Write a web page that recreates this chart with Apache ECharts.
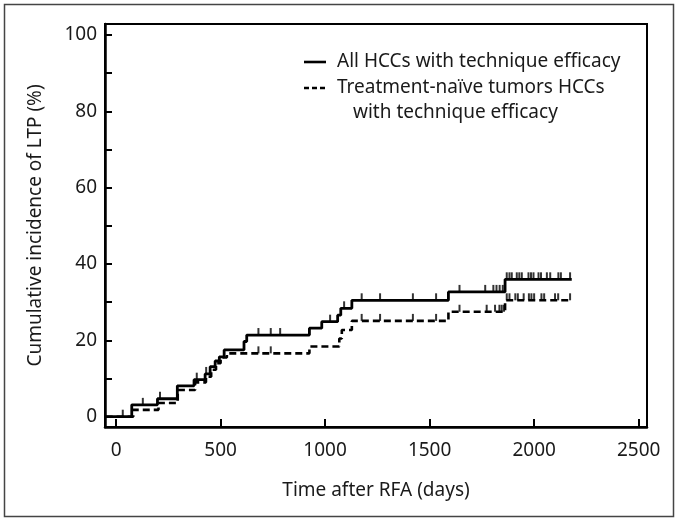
<!DOCTYPE html>
<html>
<head>
<meta charset="utf-8">
<script src="https://cdn.jsdelivr.net/npm/echarts@6/dist/echarts.min.js"></script>
<style>html,body{margin:0;padding:0;background:#fff}#c{width:677px;height:521px}</style>
</head>
<body>
<div id="c"></div>
<script>
// ---- data ----
var xTicks = [0, 500, 1000, 1500, 2000, 2500];
var yLabels = [0, 20, 40, 60, 80, 100];
var yTicks = [0, 10, 20, 30, 40, 50, 60, 70, 80, 90, 100];

var allTimes  = [-50, 75, 198, 293, 373, 426, 450, 474, 494, 517, 612, 625, 925, 984, 1060, 1075, 1128, 1590, 1861, 2180];
var allValues = [0, 3.1, 4.7, 8.1, 9.7, 11.2, 13.1, 14.6, 15.7, 17.5, 19.7, 21.4, 23.2, 24.9, 26.6, 28.4, 30.5, 32.7, 36.0, 36.0];

var naiveTimes  = [-50, 82, 203, 295, 378, 430, 455, 478, 500, 530, 925, 1068, 1080, 1128, 1590, 1861, 2180];
var naiveValues = [0, 1.8, 3.6, 7.0, 9.0, 10.5, 12.3, 14.0, 15.5, 16.6, 18.4, 20.5, 22.7, 25.1, 27.5, 30.5, 30.5];

var allCensored = [32, 128, 210, 386, 431, 681, 740, 785, 1024, 1091, 1175, 1263, 1420, 1531, 1643, 1766, 1805, 1820, 1835, 1850,
  1869, 1882, 1893, 1917, 1929, 1941, 1973, 1985, 1997, 2021, 2033, 2061, 2077, 2116, 2128, 2172];
var naiveCensored = [681, 740, 1175, 1263, 1420, 1531, 1643, 1773, 1813, 1834, 1845, 1856, 1869, 1882, 1910, 1922, 1950,
  1975, 1987, 2000, 2035, 2048, 2100, 2115, 2172];

var seriesNames = ['All HCCs with technique efficacy', 'Treatment-naïve tumors HCCs', 'with technique efficacy'];

// ---- helpers ----
function pairs(t, v) { return t.map(function (x, i) { return [x, v[i]]; }); }
function levelAt(t, v, x) {
  var lv = v[0];
  for (var i = 0; i < t.length; i++) { if (t[i] <= x) lv = v[i]; }
  return lv;
}
function censorPts(ct, t, v) { return ct.map(function (x) { return [x, levelAt(t, v, x)]; }); }

var FONT = 'Noto Sans';
var TXT = '#1a1a1a';

var chart = echarts.init(document.getElementById('c'), null, { renderer: 'canvas' });
chart.setOption({
  animation: false,
  backgroundColor: '#fff',
  grid: { left: 105, right: 30, top: 24, bottom: 94, show: true, borderColor: '#000', borderWidth: 2, backgroundColor: 'transparent' },
  xAxis: {
    type: 'value', min: -53, max: 2540,
    name: 'Time after RFA (days)', nameLocation: 'middle', nameGap: 54,
    nameTextStyle: { fontFamily: FONT, fontSize: 19, color: TXT },
    axisLine: { onZero: false, lineStyle: { color: '#000', width: 2.5 } },
    axisTick: { inside: true, length: 8, lineStyle: { color: '#000', width: 2 }, customValues: xTicks },
    axisLabel: { fontFamily: FONT, fontSize: 19, color: TXT, margin: 14, customValues: xTicks,
      formatter: function (v) { return String(v); } },
    splitLine: { show: false }
  },
  yAxis: {
    type: 'value', min: -2.7, max: 102.9,
    name: 'Cumulative incidence of LTP (%)', nameLocation: 'middle', nameGap: 60,
    nameTextStyle: { fontFamily: FONT, fontSize: 19, color: TXT },
    axisLine: { onZero: false, lineStyle: { color: '#000', width: 2.5 } },
    axisTick: { inside: true, length: 7, lineStyle: { color: '#000', width: 2 }, customValues: yTicks },
    axisLabel: { fontFamily: FONT, fontSize: 19, color: TXT, margin: 8, customValues: yLabels,
      formatter: function (v) { return String(v); } },
    splitLine: { show: false }
  },
  series: [
    { name: seriesNames[0], type: 'line', step: 'end', symbol: 'none', data: pairs(allTimes, allValues),
      lineStyle: { color: '#000', width: 2.8 }, z: 3 },
    { name: seriesNames[1], type: 'line', step: 'end', symbol: 'none', data: pairs(naiveTimes, naiveValues),
      lineStyle: { color: '#000', width: 2.6, type: [7, 4] }, z: 2 },
    { type: 'scatter', data: censorPts(allCensored, allTimes, allValues), symbol: 'rect', symbolSize: [2, 7],
      symbolOffset: [0, -3.5], itemStyle: { color: '#000' }, silent: true, z: 4 },
    { type: 'scatter', data: censorPts(naiveCensored, naiveTimes, naiveValues), symbol: 'rect', symbolSize: [2, 7],
      symbolOffset: [0, -3.5], itemStyle: { color: '#000' }, silent: true, z: 4 }
  ],
  graphic: [
    { type: 'rect', shape: { x: 4.5, y: 4.5, width: 669, height: 512 }, style: { fill: 'none', stroke: '#444', lineWidth: 1.5 }, silent: true },
    { type: 'line', shape: { x1: 304, y1: 62, x2: 326, y2: 62 }, style: { stroke: '#000', lineWidth: 2.6 } },
    { type: 'line', shape: { x1: 304, y1: 88, x2: 326, y2: 88 }, style: { stroke: '#000', lineWidth: 2.6, lineDash: [5, 3] } },
    { type: 'text', x: 337, y: 62, style: { text: seriesNames[0], fontFamily: FONT, fontSize: 19, fill: TXT, textVerticalAlign: 'middle', verticalAlign: 'middle' } },
    { type: 'text', x: 337, y: 88, style: { text: seriesNames[1], fontFamily: FONT, fontSize: 19, fill: TXT, textVerticalAlign: 'middle', verticalAlign: 'middle' } },
    { type: 'text', x: 353, y: 113, style: { text: seriesNames[2], fontFamily: FONT, fontSize: 19, fill: TXT, textVerticalAlign: 'middle', verticalAlign: 'middle' } }
  ]
});
</script>
</body>
</html>
